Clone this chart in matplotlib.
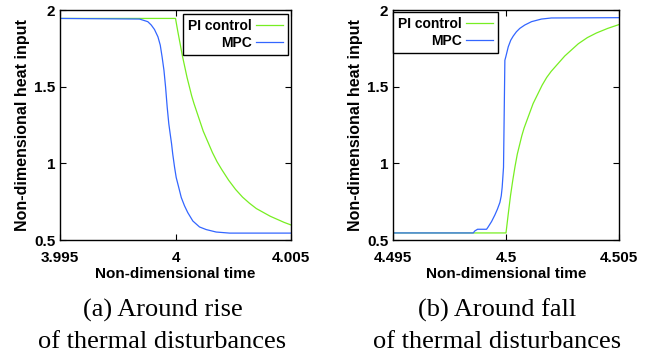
import matplotlib
matplotlib.use("Agg")
import matplotlib.pyplot as plt

# (a) around rise of thermal disturbances
rise_pi_t = [3.995, 3.998, 4.0000, 4.0001, 4.0002, 4.0003, 4.0004, 4.0005, 4.0006, 4.0007,
             4.0008, 4.0009, 4.0010, 4.0012, 4.0014, 4.0016, 4.0018, 4.0020, 4.0023, 4.0026,
             4.0029, 4.0032, 4.0035, 4.0038, 4.0041, 4.0044, 4.0047, 4.0050]
rise_pi_q = [1.945, 1.945, 1.945, 1.86, 1.78, 1.70, 1.63, 1.56, 1.50, 1.44,
             1.39, 1.345, 1.30, 1.21, 1.14, 1.07, 1.01, 0.96, 0.89, 0.83,
             0.78, 0.74, 0.705, 0.68, 0.655, 0.635, 0.615, 0.598]
rise_mpc_t = [3.995, 3.99844, 3.99859, 3.99880, 3.99895, 3.99909, 3.99924, 3.99934, 3.99942,
              3.99950, 3.99957, 3.99964, 3.99971, 3.99977, 3.99983, 3.99988, 3.99996, 4.00003,
              4.00014, 4.00025, 4.00039, 4.00053, 4.00075, 4.00104, 4.00133, 4.00176, 4.00234,
              4.005]
rise_mpc_q = [1.945, 1.941, 1.934, 1.924, 1.902, 1.873, 1.825, 1.771, 1.694,
              1.607, 1.498, 1.367, 1.258, 1.192, 1.127, 1.061, 0.974, 0.908,
              0.843, 0.777, 0.723, 0.679, 0.624, 0.585, 0.568, 0.552, 0.545,
              0.545]

# (b) around fall of thermal disturbances
fall_pi_t = [4.495, 4.4990, 4.5000, 4.5001, 4.5002, 4.5003, 4.5004, 4.5005, 4.5006, 4.5007,
             4.5008, 4.5009, 4.5010, 4.5012, 4.5014, 4.5016, 4.5018, 4.5020, 4.5023, 4.5026,
             4.5029, 4.5032, 4.5036, 4.5040, 4.5045, 4.5050]
fall_pi_q = [0.546, 0.546, 0.546, 0.67, 0.79, 0.89, 0.98, 1.06, 1.12, 1.18,
             1.23, 1.27, 1.31, 1.39, 1.45, 1.51, 1.56, 1.60, 1.65, 1.70,
             1.74, 1.78, 1.82, 1.85, 1.88, 1.905]
fall_mpc_t = [4.495, 4.49855, 4.49862, 4.49874, 4.49914, 4.49921, 4.49936, 4.49951, 4.49962,
              4.49973, 4.49979, 4.49983, 4.49986, 4.49989, 4.49995, 4.49999, 4.50010, 4.50021,
              4.50032, 4.50046, 4.50061, 4.50083, 4.50113, 4.50157, 4.50201, 4.505]
fall_mpc_q = [0.546, 0.546, 0.559, 0.570, 0.570, 0.585, 0.620, 0.664, 0.701,
              0.745, 0.788, 0.843, 0.908, 0.974, 1.672, 1.694, 1.760, 1.803,
              1.830, 1.858, 1.880, 1.902, 1.924, 1.941, 1.948, 1.950]

panels = [
    (rise_pi_t, rise_pi_q, rise_mpc_t, rise_mpc_q, [3.995, 4.0, 4.005],
     ["3.995", "4", "4.005"], ("(a) Around rise", "of thermal disturbances")),
    (fall_pi_t, fall_pi_q, fall_mpc_t, fall_mpc_q, [4.495, 4.5, 4.505],
     ["4.495", "4.5", "4.505"], ("(b) Around fall", "of thermal disturbances")),
]

pi_color = "#77ee22"
mpc_color = "#3366ff"

plt.rcParams["font.family"] = "Liberation Sans"
plt.rcParams["font.weight"] = "bold"

fig = plt.figure(figsize=(6.70, 3.53), dpi=100)
W, H = 670.0, 353.0
boxes = [(60, 10, 291, 240), (393, 10, 619, 240)]
legend_spots = [("upper right", (1 - 3 / 231, 1 - 4 / 230)), ("upper left", (0.0, 1 - 2 / 230))]
caption_x = [162.5, 496.7]

for i, ((pt, pq, mt, mq, ticks, ticklabels, caption), (x0, y0, x1, y1)) in enumerate(zip(panels, boxes)):
    ax = fig.add_axes([x0 / W, 1 - y1 / H, (x1 - x0) / W, (y1 - y0) / H])
    ax.plot(pt, pq, color=pi_color, lw=0.9, label="PI control")
    ax.plot(mt, mq, color=mpc_color, lw=0.9, label="MPC")
    ax.set_xlim(ticks[0], ticks[-1])
    ax.set_ylim(0.5, 2.0)
    ax.set_xticks(ticks)
    ax.set_xticklabels(ticklabels)
    ax.set_yticks([0.5, 1.0, 1.5, 2.0])
    ax.set_yticklabels(["0.5", "1", "1.5", "2"])
    ax.tick_params(direction="in", top=True, right=True, length=4, width=0.8,
                   labelsize=11)
    ax.tick_params(axis="x", pad=8)
    ax.tick_params(axis="y", pad=3.5)
    for s in ax.spines.values():
        s.set_linewidth(1.0)
    ax.set_xlabel("Non-dimensional time", fontsize=11, fontweight="bold", labelpad=1)
    ax.set_ylabel("Non-dimensional heat input", fontsize=11.5, fontweight="bold", labelpad=3)
    loc, anchor = legend_spots[i]
    leg = ax.legend(loc=loc, bbox_to_anchor=anchor, borderaxespad=0, markerfirst=False,
                    fontsize=10, fancybox=False, framealpha=1, edgecolor="black",
                    handlelength=1.95, handletextpad=0.3, borderpad=0.35,
                    labelspacing=0.2)
    leg.get_frame().set_linewidth(1.0)
    cx = caption_x[i] / W
    fig.text(cx, 1 - 317 / H, caption[0], ha="center", va="baseline",
             fontsize=19, family="Liberation Serif", fontweight="normal")
    fig.text(cx, 1 - 348 / H, caption[1], ha="center", va="baseline",
             fontsize=19, family="Liberation Serif", fontweight="normal")

fig.savefig("out.png", dpi=100)
